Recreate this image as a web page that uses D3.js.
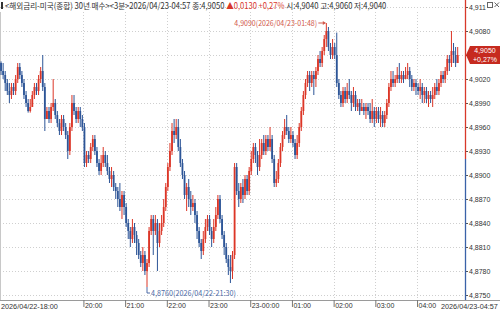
<!DOCTYPE html>
<html>
<head>
<meta charset="utf-8">
<script src="https://cdn.jsdelivr.net/npm/d3@7"></script>
<style>
  body { margin: 0; background: #fff; }
  svg { display: block; }
</style>
</head>
<body>
<svg></svg>
<script>
// 3-minute candles, 2026/04/22 18:00 -> 2026/04/23 04:57
const opens = [
  4.9040,4.9030,4.9025,4.9015,4.9005,4.9000,4.9010,4.9005,4.9020,4.9035,
  4.9025,4.9015,4.9000,4.8990,4.8980,4.8985,4.9000,4.9010,4.9005,4.9020,
  4.9030,4.9010,4.8970,4.8980,4.8970,4.8985,4.8990,4.8975,4.8965,4.8955,
  4.8970,4.8960,4.8950,4.8930,4.8960,4.8990,4.8980,4.8970,4.8980,4.8970,
  4.8960,4.8915,4.8925,4.8920,4.8935,4.8945,4.8930,4.8915,4.8905,4.8915,
  4.8925,4.8915,4.8905,4.8895,4.8900,4.8885,4.8880,4.8870,4.8860,4.8875,
  4.8860,4.8840,4.8830,4.8820,4.8835,4.8825,4.8815,4.8800,4.8790,4.8800,
  4.8780,4.8790,4.8830,4.8845,4.8830,4.8840,4.8815,4.8830,4.8840,4.8860,
  4.8885,4.8910,4.8930,4.8955,4.8950,4.8960,4.8935,4.8915,4.8900,4.8875,
  4.8885,4.8870,4.8860,4.8865,4.8850,4.8830,4.8815,4.8805,4.8820,4.8835,
  4.8845,4.8830,4.8820,4.8835,4.8850,4.8870,4.8845,4.8825,4.8810,4.8795,
  4.8785,4.8780,4.8800,4.8910,4.8880,4.8870,4.8885,4.8875,4.8895,4.8880,
  4.8905,4.8920,4.8935,4.8925,4.8910,4.8925,4.8940,4.8930,4.8945,4.8935,
  4.8945,4.8920,4.8890,4.8895,4.8915,4.8935,4.8950,4.8960,4.8955,4.8945,
  4.8950,4.8940,4.8925,4.8940,4.8960,4.8980,4.9000,4.9015,4.9025,4.9015,
  4.9025,4.9020,4.9030,4.9045,4.9040,4.9055,4.9070,4.9080,4.9060,4.9050,
  4.9060,4.9050,4.9015,4.9000,4.8990,4.9005,4.8995,4.9005,4.9000,4.8990,
  4.9000,4.8985,4.8990,4.8980,4.8985,4.8980,4.8985,4.8980,4.8970,4.8980,
  4.8970,4.8980,4.8970,4.8975,4.8965,4.8975,4.8990,4.9010,4.9020,4.9015,
  4.9020,4.9025,4.9020,4.9025,4.9020,4.9025,4.9030,4.9020,4.9010,4.9015,
  4.9010,4.9005,4.9010,4.9000,4.9005,4.8995,4.9000,4.8995,4.9000,4.9010,
  4.9005,4.9015,4.9025,4.9020,4.9030,4.9045,4.9040,4.9055,4.9050,4.9040
];
const highs = [
  4.9042,4.9040,4.9030,4.9020,4.9015,4.9015,4.9015,4.9025,4.9040,4.9040,
  4.9030,4.9020,4.9005,4.8995,4.8995,4.9005,4.9015,4.9015,4.9025,4.9035,
  4.9050,4.9015,4.8985,4.8985,4.8990,4.9020,4.8995,4.8980,4.8970,4.8975,
  4.8975,4.8965,4.8955,4.8965,4.9000,4.9000,4.8985,4.8985,4.8985,4.8975,
  4.8965,4.8930,4.8930,4.8940,4.8950,4.8950,4.8935,4.8920,4.8925,4.8935,
  4.8930,4.8925,4.8910,4.8910,4.8905,4.8890,4.8885,4.8890,4.8880,4.8880,
  4.8865,4.8845,4.8835,4.8845,4.8840,4.8830,4.8820,4.8805,4.8810,4.8805,
  4.8795,4.8835,4.8850,4.8850,4.8850,4.8845,4.8840,4.8850,4.8870,4.8890,
  4.8915,4.8940,4.8965,4.8970,4.8970,4.8970,4.8945,4.8920,4.8905,4.8890,
  4.8895,4.8880,4.8875,4.8870,4.8855,4.8835,4.8820,4.8830,4.8845,4.8850,
  4.8850,4.8835,4.8845,4.8860,4.8875,4.8875,4.8850,4.8830,4.8815,4.8800,
  4.8800,4.8805,4.8915,4.8915,4.8890,4.8890,4.8895,4.8900,4.8900,4.8910,
  4.8930,4.8940,4.8940,4.8930,4.8945,4.8945,4.8950,4.8950,4.8950,4.8960,
  4.8950,4.8925,4.8905,4.8920,4.8940,4.8955,4.8970,4.8975,4.8960,4.8960,
  4.8955,4.8945,4.8950,4.8965,4.8985,4.9005,4.9020,4.9030,4.9030,4.9030,
  4.9030,4.9035,4.9050,4.9055,4.9060,4.9075,4.9090,4.9085,4.9065,4.9070,
  4.9065,4.9078,4.9020,4.9005,4.9010,4.9010,4.9015,4.9020,4.9005,4.9010,
  4.9005,4.8995,4.8995,4.8995,4.8990,4.8990,4.8990,4.8990,4.8995,4.8985,
  4.8985,4.8985,4.8985,4.8980,4.8980,4.8995,4.9015,4.9030,4.9030,4.9025,
  4.9035,4.9040,4.9030,4.9030,4.9035,4.9040,4.9035,4.9025,4.9020,4.9020,
  4.9015,4.9020,4.9015,4.9010,4.9010,4.9005,4.9005,4.9010,4.9015,4.9020,
  4.9020,4.9030,4.9030,4.9035,4.9050,4.9050,4.9080,4.9065,4.9060,4.9060
];
const lows = [
  4.9025,4.9020,4.9005,4.9000,4.8990,4.8995,4.9000,4.9000,4.9015,4.9020,
  4.9010,4.8995,4.8985,4.8978,4.8978,4.8985,4.8995,4.9000,4.9000,4.9015,
  4.9005,4.8955,4.8970,4.8965,4.8965,4.8980,4.8970,4.8960,4.8950,4.8950,
  4.8955,4.8945,4.8920,4.8925,4.8955,4.8975,4.8965,4.8965,4.8960,4.8955,
  4.8910,4.8910,4.8915,4.8915,4.8930,4.8925,4.8910,4.8900,4.8900,4.8910,
  4.8910,4.8900,4.8890,4.8885,4.8880,4.8870,4.8860,4.8855,4.8845,4.8850,
  4.8835,4.8820,4.8810,4.8815,4.8815,4.8800,4.8795,4.8785,4.8780,4.8775,
  4.8760,4.8785,4.8825,4.8800,4.8825,4.8780,4.8810,4.8825,4.8835,4.8855,
  4.8880,4.8905,4.8925,4.8940,4.8945,4.8930,4.8910,4.8895,4.8870,4.8855,
  4.8860,4.8850,4.8855,4.8840,4.8820,4.8810,4.8795,4.8800,4.8815,4.8830,
  4.8825,4.8810,4.8815,4.8830,4.8845,4.8840,4.8820,4.8800,4.8790,4.8775,
  4.8765,4.8770,4.8795,4.8875,4.8860,4.8865,4.8865,4.8870,4.8875,4.8875,
  4.8900,4.8915,4.8915,4.8900,4.8905,4.8920,4.8925,4.8925,4.8930,4.8930,
  4.8915,4.8885,4.8885,4.8890,4.8910,4.8930,4.8945,4.8950,4.8940,4.8940,
  4.8935,4.8920,4.8920,4.8935,4.8955,4.8975,4.8995,4.9010,4.9005,4.9010,
  4.9000,4.9010,4.9025,4.9035,4.9035,4.9050,4.9060,4.9055,4.9045,4.9045,
  4.9045,4.9010,4.8995,4.8985,4.8985,4.8990,4.8990,4.8995,4.8980,4.8985,
  4.8980,4.8980,4.8975,4.8980,4.8975,4.8970,4.8975,4.8965,4.8965,4.8960,
  4.8965,4.8965,4.8960,4.8960,4.8960,4.8970,4.8985,4.9005,4.9010,4.9010,
  4.9015,4.9015,4.9015,4.9015,4.9020,4.9020,4.9010,4.9005,4.9005,4.9000,
  4.9000,4.8995,4.8990,4.8990,4.8990,4.8985,4.8990,4.8985,4.8995,4.9000,
  4.9000,4.9010,4.9015,4.9015,4.9025,4.9030,4.9035,4.9040,4.9035,4.9040
];
const closes = [
  4.9030,4.9025,4.9015,4.9005,4.9000,4.9010,4.9005,4.9020,4.9035,4.9025,
  4.9015,4.9000,4.8990,4.8980,4.8985,4.9000,4.9010,4.9005,4.9020,4.9030,
  4.9010,4.8970,4.8980,4.8970,4.8985,4.8990,4.8975,4.8965,4.8955,4.8970,
  4.8960,4.8950,4.8930,4.8960,4.8990,4.8980,4.8970,4.8980,4.8970,4.8960,
  4.8915,4.8925,4.8920,4.8935,4.8945,4.8930,4.8915,4.8905,4.8915,4.8925,
  4.8915,4.8905,4.8895,4.8900,4.8885,4.8880,4.8870,4.8860,4.8875,4.8860,
  4.8840,4.8830,4.8820,4.8835,4.8825,4.8815,4.8800,4.8790,4.8800,4.8780,
  4.8790,4.8830,4.8845,4.8830,4.8840,4.8815,4.8830,4.8840,4.8860,4.8885,
  4.8910,4.8930,4.8955,4.8950,4.8960,4.8935,4.8915,4.8900,4.8875,4.8885,
  4.8870,4.8860,4.8865,4.8850,4.8830,4.8815,4.8805,4.8820,4.8835,4.8845,
  4.8830,4.8820,4.8835,4.8850,4.8870,4.8845,4.8825,4.8810,4.8795,4.8785,
  4.8780,4.8800,4.8910,4.8880,4.8870,4.8885,4.8875,4.8895,4.8880,4.8905,
  4.8920,4.8935,4.8925,4.8910,4.8925,4.8940,4.8930,4.8945,4.8935,4.8945,
  4.8920,4.8890,4.8895,4.8915,4.8935,4.8950,4.8960,4.8955,4.8945,4.8950,
  4.8940,4.8925,4.8940,4.8960,4.8980,4.9000,4.9015,4.9025,4.9015,4.9025,
  4.9020,4.9030,4.9045,4.9040,4.9055,4.9070,4.9080,4.9060,4.9050,4.9060,
  4.9050,4.9015,4.9000,4.8990,4.9005,4.8995,4.9005,4.9000,4.8990,4.9000,
  4.8985,4.8990,4.8980,4.8985,4.8980,4.8985,4.8980,4.8970,4.8980,4.8970,
  4.8980,4.8970,4.8975,4.8965,4.8975,4.8990,4.9010,4.9020,4.9015,4.9020,
  4.9025,4.9020,4.9025,4.9020,4.9025,4.9030,4.9020,4.9010,4.9015,4.9010,
  4.9005,4.9010,4.9000,4.9005,4.8995,4.9000,4.8995,4.9000,4.9010,4.9005,
  4.9015,4.9025,4.9020,4.9030,4.9045,4.9040,4.9055,4.9050,4.9040,4.9050
];

const yTicks = [4.8750,4.8780,4.8810,4.8840,4.8870,4.8900,4.8930,4.8960,4.8990,4.9020,4.9050,4.9080,4.9110];
const hourTimes = [
  new Date(2026,3,22,20), new Date(2026,3,22,21), new Date(2026,3,22,22), new Date(2026,3,22,23),
  new Date(2026,3,23,0), new Date(2026,3,23,1), new Date(2026,3,23,2), new Date(2026,3,23,3), new Date(2026,3,23,4)
];
const hourLabels = ["20:00","21:00","22:00","23:00","23-00:00","01:00","02:00","03:00","04:00"];
const startLabel = "2026/04/22-18:00";
const endLabel = "2026/04/23-04:57";
const prevClose = 4.8920;
const lastPrice = 4.9050;
const changePct = "+0,27%";
const headerParts = [
  {text: "<해외금리-미국(종합) 30년 매수><3분>2026/04/23-04:57 종:4,9050 ", color: "#333"},
  {text: "▲0,0130 +0,27% ", color: "#d8382a"},
  {text: "시:4,9040 고:4,9060 저:4,9040", color: "#333"}
];

const w = 500, h = 314;
const plotRight = 465, plotBottom = 300;
const upColor = "#dc3627", downColor = "#2d5597";
const comma = d => d3.format(".4f")(d).replace(".", ",");

const t0 = new Date(2026,3,22,18,0);
const step = 3 * 60 * 1000;
const times = opens.map((d, i) => new Date(t0.getTime() + i * step));
const data = opens.map((o, i) => ({t: times[i], o: o, h: highs[i], l: lows[i], c: closes[i]}));

const svg = d3.select("svg").attr("width", w).attr("height", h)
  .style("font-family", "'Noto Sans CJK KR', 'Liberation Sans', sans-serif");

// squeeze a text into a given width with a transform (keeps its box honest)
function fitText(parent, tx, ty, width, size, family) {
  const g = parent.append("g");
  const t = g.append("text").attr("font-size", size);
  if (family) t.style("font-family", family);
  return {g, t, done() {
    const len = t.node().getComputedTextLength();
    g.attr("transform", `translate(${tx},${ty}) scale(${width / len},1)`);
    return t;
  }};
}

const x = d3.scaleTime()
  .domain([t0, new Date(2026,3,23,5,9)])
  .range([0, plotRight]);
const y = d3.scaleLinear()
  .domain([4.875, 4.911])
  .range([295, 7]);
const bw = x(new Date(t0.getTime() + step)) - x(t0);
const cx = d => x(d.t) + bw / 2;

// grid
svg.append("g").selectAll("line").data(yTicks).join("line")
  .attr("x1", 0).attr("x2", plotRight)
  .attr("y1", d => Math.round(y(d)) + 0.5).attr("y2", d => Math.round(y(d)) + 0.5)
  .attr("stroke", "#cfcfcf").attr("stroke-dasharray", "1,2");
svg.append("g").selectAll("line").data(hourTimes).join("line")
  .attr("x1", d => Math.round(x(d)) + 0.5).attr("x2", d => Math.round(x(d)) + 0.5)
  .attr("y1", 12).attr("y2", plotBottom)
  .attr("stroke", "#cfcfcf").attr("stroke-dasharray", "1,2");

// left border
svg.append("line").attr("x1", 0.5).attr("x2", 0.5).attr("y1", 12).attr("y2", plotBottom)
  .attr("stroke", "#c8c8c8");

// candles
const candles = svg.append("g").selectAll("g").data(data).join("g");
candles.append("line")
  .attr("x1", cx).attr("x2", cx)
  .attr("y1", d => y(d.h)).attr("y2", d => y(d.l))
  .attr("stroke", d => d.c >= d.o ? upColor : downColor)
  .attr("stroke-width", 1);
candles.append("rect")
  .attr("x", d => cx(d) - 0.9)
  .attr("width", 1.8)
  .attr("y", d => y(Math.max(d.o, d.c)))
  .attr("height", d => Math.max(1, Math.abs(y(d.o) - y(d.c))))
  .attr("fill", d => d.c >= d.o ? upColor : downColor);

// high / low annotations
const hi = data[d3.maxIndex(data, d => d.h)];
const lo = data[d3.minIndex(data, d => d.l)];
const hiColor = "#d25a4c", loColor = "#4d6aa6";
const hy = y(hi.h);
const hiText = fitText(svg, cx(hi) - 92, hy + 2.5, 83, 8);
hiText.t.attr("fill", hiColor).text(comma(hi.h) + "(2026/04/23-01:48)");
hiText.done();
svg.append("line").attr("x1", cx(hi) - 8).attr("x2", cx(hi) - 1)
  .attr("y1", hy).attr("y2", hy).attr("stroke", hiColor);
svg.append("path")
  .attr("d", `M${cx(hi) - 0.5},${hy} l-3,-2 l0,4 z`).attr("fill", hiColor);

const ly = y(lo.l);
svg.append("path")
  .attr("d", `M${cx(lo)},${ly} L${cx(lo)},${ly + 6} L${cx(lo) + 3},${ly + 6}`)
  .attr("fill", "none").attr("stroke", loColor);
const loText = fitText(svg, cx(lo) + 4, ly + 8.5, 85, 8);
loText.t.attr("fill", loColor).text(comma(lo.l) + "(2026/04/22-21:30)");
loText.done();

// x axis
svg.append("line").attr("x1", 0).attr("x2", w)
  .attr("y1", plotBottom + 0.5).attr("y2", plotBottom + 0.5).attr("stroke", "#9a9a9a");
const xAxis = svg.append("g").attr("transform", `translate(0,${plotBottom})`)
  .call(d3.axisBottom(x).tickValues(hourTimes).tickSize(7)
    .tickFormat((d, i) => hourLabels[i]));
xAxis.select(".domain").remove();
xAxis.selectAll(".tick line").attr("stroke", "#777");
xAxis.selectAll(".tick text")
  .attr("text-anchor", "start").attr("x", 1).attr("y", 3)
  .attr("font-size", 7).attr("fill", "#333")
  .style("font-family", "'Liberation Sans', sans-serif");
const sLab = fitText(svg, 1, plotBottom + 8.7, 57, 8, "'Liberation Sans', sans-serif");
sLab.t.attr("fill", "#333").text(startLabel);
sLab.done();
const eLab = fitText(svg, 441, plotBottom + 8.7, 57, 8, "'Liberation Sans', sans-serif");
eLab.t.attr("fill", "#333").text(endLabel);
eLab.done();

// y axis (the last-price tag covers the 4,9050 label)
const yAxis = svg.append("g").attr("transform", `translate(${plotRight},0)`)
  .call(d3.axisRight(y).tickValues(yTicks).tickSize(3)
    .tickFormat(d => Math.abs(d - lastPrice) < 1e-6 ? "" : comma(d)));
yAxis.select(".domain").remove();
yAxis.selectAll(".tick line").attr("stroke", "#555");
yAxis.selectAll(".tick text")
  .attr("x", 4).attr("font-size", 7).attr("fill", "#333")
  .style("font-family", "'Liberation Sans', sans-serif");
const axX = plotRight + 0.5;
svg.append("line").attr("x1", axX).attr("x2", axX)
  .attr("y1", 0).attr("y2", y(prevClose)).attr("stroke", "#d8382a").attr("stroke-width", 1.3);
svg.append("line").attr("x1", axX).attr("x2", axX)
  .attr("y1", y(prevClose)).attr("y2", plotBottom).attr("stroke", "#3a62a8").attr("stroke-width", 1.3);

// last price marker
const py = y(lastPrice);
svg.append("path")
  .attr("d", `M${plotRight + 1},${py} L${plotRight + 5},${py - 9} L${w},${py - 9} L${w},${py + 9} L${plotRight + 5},${py + 9} Z`)
  .attr("fill", "#c62a1f");
svg.append("text").attr("x", 485).attr("y", py - 2)
  .attr("text-anchor", "middle")
  .attr("font-size", 7).attr("fill", "#fff")
  .style("font-family", "'Liberation Sans', sans-serif")
  .text(comma(lastPrice));
svg.append("text").attr("x", 485).attr("y", py + 7)
  .attr("text-anchor", "middle")
  .attr("font-size", 7).attr("fill", "#fff")
  .style("font-family", "'Liberation Sans', sans-serif")
  .text(changePct);

// window icons top-right
svg.append("rect").attr("x", 486).attr("y", 0).attr("width", 14).attr("height", 10).attr("fill", "#fff");
svg.append("rect").attr("x", 487.5).attr("y", 2.5).attr("width", 5).attr("height", 5)
  .attr("fill", "none").attr("stroke", "#666");
svg.append("path").attr("d", "M494.5,2.5 L499,7 M499,2.5 L494.5,7").attr("stroke", "#666");

// header, one text with coloured parts
svg.append("rect").attr("x", 1).attr("y", 2).attr("width", 2).attr("height", 7).attr("fill", "#333");
const head = fitText(svg, 5, 9, 382, 8.5);
head.t.selectAll("tspan").data(headerParts).join("tspan")
  .attr("fill", d => d.color)
  .text(d => d.text);
head.done();
</script>
</body>
</html>
